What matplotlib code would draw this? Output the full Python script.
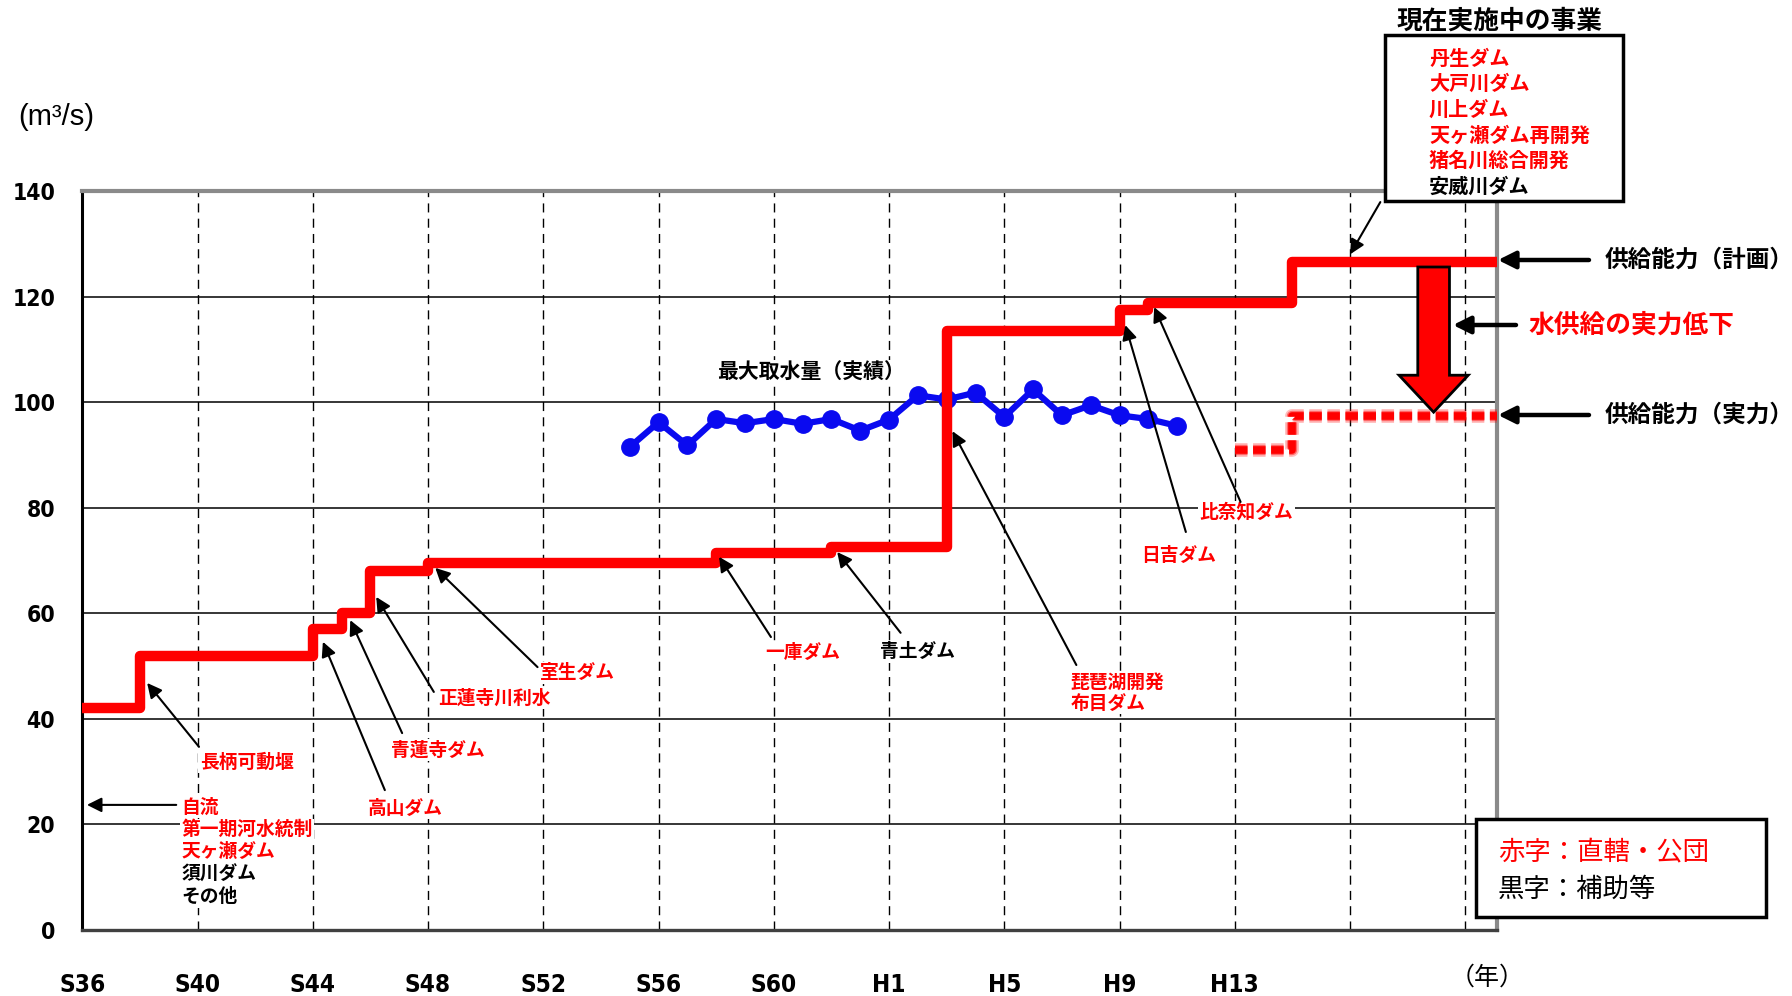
import matplotlib

matplotlib.use("Agg")
import matplotlib.pyplot as plt
from matplotlib import font_manager
from matplotlib.font_manager import FontProperties
from matplotlib.patches import FancyArrow, Rectangle

W, H = 1792, 996

# supply capacity (plan): value holds from each year until the next one
plan_years = [1961, 1963, 1969, 1970, 1971, 1973, 1983, 1987, 1991, 1997, 1998, 2003, 2010.1]
plan_values = [42, 52, 57, 60, 68, 69.5, 71.5, 72.5, 113.5, 117.5, 118.8, 126.5, 126.5]

# supply capacity (actual)
actual_years = [2001, 2003, 2010.1]
actual_values = [91, 97.4, 97.4]

# maximum intake, recorded
intake_years = list(range(1980, 2000))
intake_values = [91.5, 96.2, 91.8, 96.8, 96.0, 96.8, 95.9, 96.8, 94.6, 96.7,
                 101.3, 100.5, 101.8, 97.2, 102.4, 97.5, 99.4, 97.5, 96.8, 95.5]

x_ticks = list(range(1961, 2010, 4))
x_labels = ["S36", "S40", "S44", "S48", "S52", "S56", "S60", "H1", "H5", "H9", "H13", "", ""]
y_ticks = list(range(0, 141, 20))

ongoing_projects = ["丹生ダム", "大戸川ダム", "川上ダム", "天ヶ瀬ダム再開発", "猪名川総合開発", "安威川ダム"]
ongoing_colors = ["red", "red", "red", "red", "red", "black"]
early_sources = ["自流", "第一期河水統制", "天ヶ瀬ダム", "須川ダム", "その他"]
early_colors = ["red", "red", "red", "black", "black"]

RED = "#ff0000"
BLUE = "#0a0af0"
JP = ["Noto Sans CJK JP", "DejaVu Sans"]

plt.rcParams["lines.scale_dashes"] = False


def _narrow_bold():
    """Pick a condensed bold face for the tick numbers if one is installed."""
    found = []
    for f in font_manager.fontManager.ttflist:
        path = f.fname.lower()
        narrow = ("narrow" in path or "condensed" in path
                  or f.stretch in ("condensed", "semi-condensed", "extra-condensed"))
        if narrow and "bold" in path and "italic" not in path and "extra" not in path:
            found.append(f)
    found.sort(key=lambda f: (0 if "liberation" in f.fname.lower() else
                              1 if "semicondensed" not in f.fname.lower() else 2))
    if found:
        return FontProperties(fname=found[0].fname)
    return FontProperties(family="Liberation Sans", weight="bold")


def px(x, y):
    """Figure pixel (from top-left) -> figure fraction."""
    return x / W, 1 - y / H


fig = plt.figure(figsize=(W / 100, H / 100), dpi=100)
ax = fig.add_axes([0.04593, 0.06627, 0.78946, 0.74197])

ax.set_xlim(1961, 2010.1)
ax.set_ylim(0, 140)
ax.set_xticks(x_ticks)
ax.set_xticklabels(x_labels)
ax.set_yticks(y_ticks)
ax.set_yticklabels([str(v) for v in y_ticks])
tick_font = _narrow_bold()
for lab in ax.get_xticklabels():
    lab.set_fontproperties(tick_font)
    lab.set_fontsize(17.5)
for lab in ax.get_yticklabels():
    lab.set_fontproperties(tick_font)
    lab.set_fontsize(16.5)
ax.tick_params(axis="x", length=0, pad=31)
ax.tick_params(axis="y", length=0, pad=19.5)

ax.set_axisbelow(True)
ax.grid(axis="y", color="black", lw=1.1)
ax.grid(axis="x", color="black", lw=1.0, linestyle=(0, (6.5, 4.5)))

ax.spines["left"].set(color="black", lw=2.2)
ax.spines["bottom"].set(color="#404040", lw=2.4)
ax.spines["top"].set(color="#8a8a8a", lw=3)
ax.spines["right"].set(color="#8a8a8a", lw=3)

# recorded max intake
ax.plot(intake_years, intake_values, color=BLUE, lw=4.5, marker="o", ms=12.5,
        solid_joinstyle="round", zorder=3)

# planned supply capacity
ax.plot(plan_years, plan_values, drawstyle="steps-post", color=RED, lw=7.5,
        solid_joinstyle="round", solid_capstyle="round", zorder=4)

# actual supply capacity, soft dashed
for lw, a in [(10, 0.25), (7.5, 0.45), (5.5, 1.0)]:
    ax.plot(actual_years, actual_values, drawstyle="steps-post", color=RED, lw=lw,
            alpha=a, linestyle=(0, (9, 4)), dash_capstyle="butt", zorder=4)

# drop from planned to actual capacity
arrow_year = 2007.9
top = plan_values[-1] - 0.9
tip = actual_values[-1] + 0.7
ax.add_patch(FancyArrow(arrow_year, top, 0, tip - top, width=1.1, head_width=2.4,
                        head_length=7, length_includes_head=True,
                        fc=RED, ec="black", lw=2, zorder=5))

arrow_thin = dict(arrowstyle="-|>", color="black", lw=1.5, mutation_scale=22, shrinkA=0, shrinkB=0)
arrow_bold = dict(arrowstyle="-|>", color="black", lw=3.2, mutation_scale=26, shrinkA=0, shrinkB=0)
label_box = dict(facecolor="white", edgecolor="none", pad=1)
small = dict(fontfamily=JP, fontsize=13.5, fontweight="bold", va="center", bbox=label_box, zorder=2)

dam_labels = [
    ("長柄可動堰", RED, (1966.7, 31.8), (1965.05, 34.7), (1963.25, 46.8)),
    ("高山ダム", RED, (1972.2, 23.1), (1971.5, 26.5), (1969.35, 54.6)),
    ("青蓮寺ダム", RED, (1973.35, 34.1), (1972.1, 37.3), (1970.3, 58.7)),
    ("正蓮寺川利水", RED, (1975.3, 43.9), (1973.2, 45.1), (1971.2, 63.1)),
    ("室生ダム", RED, (1978.2, 48.7), (1976.8, 49.8), (1973.25, 68.6)),
    ("一庫ダム", RED, (1986.0, 52.5), (1984.9, 55.5), (1983.1, 70.7)),
    ("青土ダム", "black", (1990.0, 52.7), (1989.4, 56.3), (1987.2, 71.6)),
    ("日吉ダム", RED, (1999.05, 71.0), (1999.3, 75.4), (1997.2, 114.6)),
    ("比奈知ダム", RED, (2001.4, 79.2), (2001.2, 81.1), (1998.2, 118.0)),
]
for text, color, pos, tail, head in dam_labels:
    ax.annotate("", xy=head, xytext=tail, arrowprops=arrow_thin, zorder=6)
    ax.text(*pos, text, color=color, ha="center", **small)

# 琵琶湖開発 / 布目ダム
ax.annotate("", xy=(1991.2, 94.5), xytext=(1995.5, 50.2), arrowprops=arrow_thin, zorder=6)
for text, y in [("琵琶湖開発", 47.0), ("布目ダム", 43.0)]:
    ax.text(1995.3, y, text, color=RED, ha="left", **small)

# sources in place before S36
ax.annotate("", xy=(1961.16, 23.7), xytext=(1964.26, 23.7), arrowprops=arrow_thin, zorder=6)
for i, (text, color) in enumerate(zip(early_sources, early_colors)):
    ax.text(1964.45, 23.3 - i * 4.25, text, color=color, ha="left", **small)

ax.text(1986.3, 105.7, "最大取水量（実績）", color="black", fontfamily=JP, fontsize=15,
        fontweight="bold", ha="center", va="center", bbox=label_box, zorder=2)

# unit labels
fig.text(*px(56, 117), "(m³/s)", fontfamily=["Liberation Sans", "DejaVu Sans"], fontsize=21,
         ha="center", va="center")
fig.text(*px(1487, 978), "（年）", fontfamily=JP, fontsize=18, ha="center", va="center")

# ongoing projects box
fig.text(*px(1500, 21), "現在実施中の事業", fontfamily=JP, fontsize=18.5, fontweight="bold",
         ha="center", va="center")
fig.patches.append(Rectangle(px(1385, 201), 238 / W, 166 / H, transform=fig.transFigure,
                             fc="white", ec="black", lw=2.5, zorder=5))
for i, (text, color) in enumerate(zip(ongoing_projects, ongoing_colors)):
    fig.text(*px(1429, 58 + i * 25.6), text, color=color, fontfamily=JP, fontsize=14.5,
             fontweight="bold", ha="left", va="center", zorder=6)
ax.annotate("", xy=(2005.0, 128.0), xytext=(2006.05, 137.9), arrowprops=arrow_thin,
            annotation_clip=False, zorder=6)

# capacity callouts on the right
for y, text in [(260, "供給能力（計画）"), (415, "供給能力（実力）")]:
    ax.annotate("", xy=px(1498, y), xycoords="figure fraction", xytext=px(1589, y),
                textcoords="figure fraction", arrowprops=arrow_bold, annotation_clip=False)
    fig.text(*px(1605, y), text, color="black", fontfamily=JP, fontsize=17, fontweight="bold",
             ha="left", va="center")
ax.annotate("", xy=px(1453, 325), xycoords="figure fraction", xytext=px(1516, 325),
            textcoords="figure fraction", arrowprops=arrow_bold, annotation_clip=False, zorder=6)
fig.text(*px(1528, 325), "水供給の実力低下", color=RED, fontfamily=JP, fontsize=18.5,
         fontweight="bold", ha="left", va="center")

# colour key
fig.patches.append(Rectangle(px(1476, 917), 290 / W, 98 / H, transform=fig.transFigure,
                             fc="white", ec="black", lw=2.5, zorder=5))
fig.text(*px(1498, 852), "赤字：直轄・公団", color=RED, fontfamily=JP, fontsize=19,
         ha="left", va="center", zorder=6)
fig.text(*px(1498, 889), "黒字：補助等", color="black", fontfamily=JP, fontsize=19,
         ha="left", va="center", zorder=6)

fig.savefig("out.png", dpi=100)
